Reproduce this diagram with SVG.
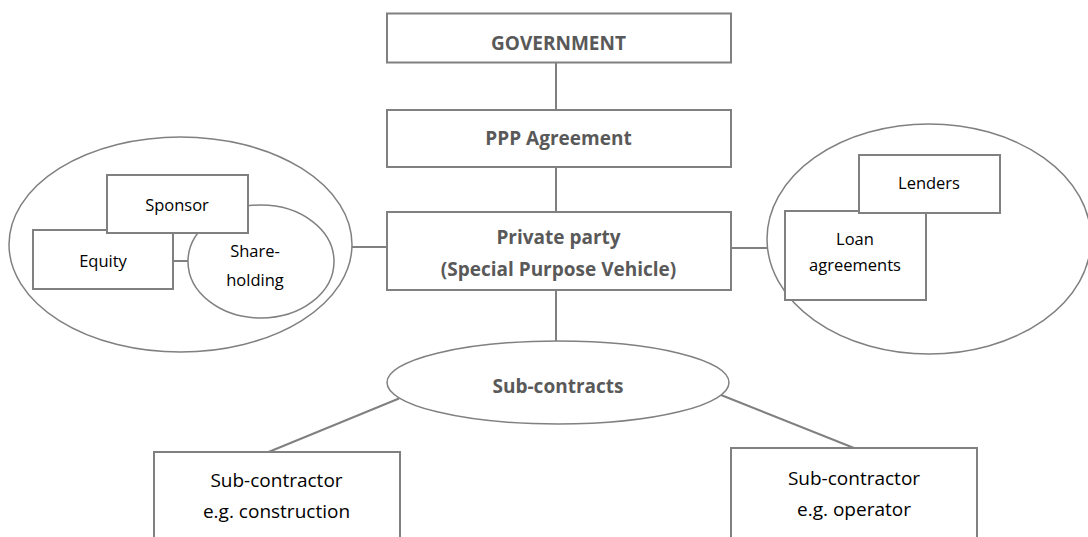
<svg xmlns="http://www.w3.org/2000/svg" width="1088" height="537" viewBox="0 0 1088 537">
<style>
.box{fill:#fff;stroke:#808080;stroke-width:2}
.ell{fill:#fff;stroke:#808080;stroke-width:1.5}
.ln{stroke:#808080;stroke-width:2;fill:none}
.b{font-family:"Open Sans","Liberation Sans",sans-serif;font-weight:bold;font-size:19px;fill:#595959;text-anchor:middle}
.r{font-family:"Open Sans","Liberation Sans",sans-serif;font-size:16.5px;fill:#000;text-anchor:middle}
.r2{font-family:"Open Sans","Liberation Sans",sans-serif;font-size:19px;fill:#000;text-anchor:middle}
</style>
<rect width="1088" height="537" fill="#fff"/>
<g id="connectors">
<line class="ln" x1="556" y1="62.5" x2="556" y2="112"/>
<line class="ln" x1="556" y1="167" x2="556" y2="212"/>
<line class="ln" x1="556" y1="290" x2="556" y2="341"/>
<line class="ln" x1="352" y1="247" x2="387" y2="247"/>
<line class="ln" x1="731" y1="248" x2="767" y2="248"/>
<line class="ln" x1="399" y1="398.5" x2="268.5" y2="452"/>
<line class="ln" x1="721" y1="395" x2="854" y2="448"/>
</g>
<g id="government">
<rect class="box" x="387" y="13.5" width="344" height="49"/>
<text class="b" x="558.5" y="50">GOVERNMENT</text>
</g>
<g id="ppp-agreement">
<rect class="box" x="387" y="110" width="344" height="57"/>
<text class="b" x="558.5" y="145">PPP Agreement</text>
</g>
<g id="private-party">
<rect class="box" x="387" y="212" width="344" height="78"/>
<text class="b" x="558.5" y="244">Private party</text>
<text class="b" x="558.5" y="276">(Special Purpose Vehicle)</text>
</g>
<g id="equity-group">
<ellipse class="ell" cx="180.5" cy="244.5" rx="171.5" ry="107.5"/>
<line class="ln" x1="173" y1="261" x2="188" y2="261"/>
<g id="shareholding">
<ellipse class="ell" cx="261" cy="261.5" rx="73" ry="56.5"/>
<text class="r" x="255" y="257">Share-</text>
<text class="r" x="255" y="286">holding</text>
</g>
<g id="equity">
<rect class="box" x="33" y="230" width="140" height="59"/>
<text class="r" x="103" y="267">Equity</text>
</g>
<g id="sponsor">
<rect class="box" x="107" y="175" width="141" height="58"/>
<text class="r" x="177" y="210.5">Sponsor</text>
</g>
</g>
<g id="lenders-group">
<ellipse class="ell" cx="929" cy="239" rx="162" ry="115"/>
<g id="loan-agreements">
<rect class="box" x="785" y="211" width="141" height="89"/>
<text class="r" x="855" y="245">Loan</text>
<text class="r" x="855" y="271">agreements</text>
</g>
<g id="lenders">
<rect class="box" x="859" y="155" width="141" height="58"/>
<text class="r" x="929" y="189">Lenders</text>
</g>
</g>
<g id="sub-contracts">
<ellipse class="ell" cx="558" cy="382.5" rx="171" ry="41.5"/>
<text class="b" x="558" y="393">Sub-contracts</text>
</g>
<g id="sub-contractor-construction">
<rect class="box" x="154" y="452" width="246" height="100"/>
<text class="r2" x="276.5" y="487">Sub-contractor</text>
<text class="r2" x="276.5" y="518">e.g. construction</text>
</g>
<g id="sub-contractor-operator">
<rect class="box" x="731" y="448" width="246" height="100"/>
<text class="r2" x="854" y="485">Sub-contractor</text>
<text class="r2" x="854" y="516">e.g. operator</text>
</g>
</svg>
